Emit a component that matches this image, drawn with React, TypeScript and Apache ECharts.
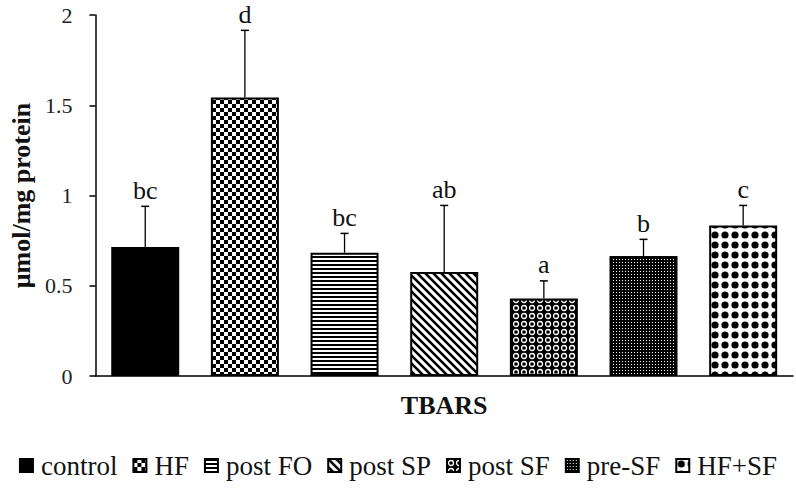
import React, { useEffect, useRef } from "react";
import * as echarts from "echarts";

const categories = ["control", "HF", "post FO", "post SP", "post SF", "pre-SF", "HF+SF"];
const means = [0.714, 1.543, 0.683, 0.576, 0.429, 0.665, 0.834];
const errors = [0.226, 0.372, 0.107, 0.369, 0.098, 0.092, 0.111];
const letters = ["bc", "d", "bc", "ab", "a", "b", "c"];
const yTicks = [0, 0.5, 1, 1.5, 2];

const SERIF = "'Liberation Serif', 'DejaVu Serif', serif";

function makeCanvas(w: number, h: number, draw: (ctx: CanvasRenderingContext2D) => void) {
  const c = document.createElement("canvas");
  c.width = w;
  c.height = h;
  const ctx = c.getContext("2d")!;
  draw(ctx);
  return c;
}

function buildPatterns(): any[] {
  const solid = "#000";
  const checker = makeCanvas(8, 8, (ctx) => {
    ctx.fillStyle = "#fff";
    ctx.fillRect(0, 0, 8, 8);
    ctx.fillStyle = "#000";
    ctx.fillRect(0, 0, 4, 4);
    ctx.fillRect(4, 4, 4, 4);
  });
  const hstripes = makeCanvas(4, 4, (ctx) => {
    ctx.fillStyle = "#fff";
    ctx.fillRect(0, 0, 4, 4);
    ctx.fillStyle = "#000";
    ctx.fillRect(0, 0, 4, 2);
  });
  const diag = makeCanvas(8, 8, (ctx) => {
    ctx.fillStyle = "#fff";
    ctx.fillRect(0, 0, 8, 8);
    ctx.strokeStyle = "#000";
    ctx.lineWidth = 2.6;
    ctx.beginPath();
    ctx.moveTo(-2, -2);
    ctx.lineTo(10, 10);
    ctx.moveTo(-2, 6);
    ctx.lineTo(2, 10);
    ctx.moveTo(6, -2);
    ctx.lineTo(10, 2);
    ctx.stroke();
  });
  const circles = makeCanvas(8, 8, (ctx) => {
    ctx.fillStyle = "#000";
    ctx.fillRect(0, 0, 8, 8);
    ctx.strokeStyle = "#fff";
    ctx.lineWidth = 1.3;
    ctx.beginPath();
    ctx.arc(4, 4, 2.5, 0, Math.PI * 2);
    ctx.stroke();
  });
  const fine = makeCanvas(3, 3, (ctx) => {
    ctx.fillStyle = "#000";
    ctx.fillRect(0, 0, 3, 3);
    ctx.fillStyle = "#fff";
    ctx.fillRect(1, 1, 1, 1);
  });
  const dots = makeCanvas(10, 10, (ctx) => {
    ctx.fillStyle = "#fff";
    ctx.fillRect(0, 0, 10, 10);
    ctx.fillStyle = "#000";
    ctx.beginPath();
    ctx.arc(5, 5, 3.6, 0, Math.PI * 2);
    ctx.fill();
  });
  const pat = (c: HTMLCanvasElement) => ({ image: c, repeat: "repeat" });
  return [solid, pat(checker), pat(hstripes), pat(diag), pat(circles), pat(fine), pat(dots)];
}

export default function App() {
  const ref = useRef<HTMLDivElement>(null);
  useEffect(() => {
    if (!ref.current) return;
    document.body.style.margin = "0";
    const chart = echarts.init(ref.current, null, { renderer: "svg" });
    const fills = buildPatterns();

    const barSeries = categories.map((name, i) => ({
      name,
      type: "bar",
      stack: "all",
      barWidth: 68,
      data: categories.map((_, j) => (j === i ? means[i] : null)),
      itemStyle: { color: fills[i], borderColor: "#000", borderWidth: 2 },
      emphasis: { disabled: true },
    }));

    const errSeries = {
      type: "custom",
      name: "err",
      data: categories.map((_, i) => [i, means[i], means[i] + errors[i]]),
      renderItem: (params: any, api: any) => {
        const i = params.dataIndex;
        const p0 = api.coord([api.value(0), api.value(1)]);
        const p1 = api.coord([api.value(0), api.value(2)]);
        const capW = 8;
        return {
          type: "group",
          children: [
            {
              type: "line",
              shape: { x1: p0[0], y1: p0[1], x2: p1[0], y2: p1[1] },
              style: { stroke: "#000", lineWidth: 1.3 },
            },
            {
              type: "line",
              shape: { x1: p1[0] - capW / 2, y1: p1[1], x2: p1[0] + capW / 2, y2: p1[1] },
              style: { stroke: "#000", lineWidth: 1.5 },
            },
            {
              type: "text",
              x: p1[0],
              y: p1[1] - 3,
              style: {
                text: letters[i],
                fill: "#111",
                font: `26px ${SERIF}`,
                align: "center",
                verticalAlign: "bottom",
              },
            },
          ],
        };
      },
      z: 5,
    };

    chart.setOption({
      animation: false,
      backgroundColor: "#fff",
      grid: { left: 86, right: 3, top: 15, bottom: 114, containLabel: false },
      legend: {
        data: categories,
        bottom: 6,
        left: "center",
        itemWidth: 13,
        itemHeight: 13,
        itemGap: 15,
        icon: "rect",
        textStyle: { fontFamily: SERIF, fontSize: 27, color: "#111", padding: [0, 0, 0, 3] },
      },
      xAxis: {
        type: "category",
        data: categories,
        name: "TBARS",
        nameLocation: "middle",
        nameGap: 16,
        nameTextStyle: { fontFamily: SERIF, fontSize: 26, fontWeight: "bold", color: "#111" },
        axisLine: { show: true, lineStyle: { color: "#000", width: 1.5 } },
        axisTick: { show: false },
        axisLabel: { show: false },
      },
      yAxis: {
        type: "value",
        min: yTicks[0],
        max: yTicks[yTicks.length - 1],
        interval: 0.5,
        name: "μmol/mg protein",
        nameLocation: "middle",
        nameGap: 61,
        nameTextStyle: { fontFamily: SERIF, fontSize: 26, fontWeight: "bold", color: "#111" },
        axisLine: { show: true, lineStyle: { color: "#000", width: 1.5 } },
        axisTick: { show: true, length: 6, lineStyle: { color: "#000", width: 1.5 } },
        axisLabel: { fontFamily: SERIF, fontSize: 22, color: "#222", margin: 23 },
        splitLine: { show: false },
      },
      series: [...barSeries, errSeries],
    });
    return () => chart.dispose();
  }, []);
  return <div ref={ref} style={{ width: 796, height: 490 }} />;
}
